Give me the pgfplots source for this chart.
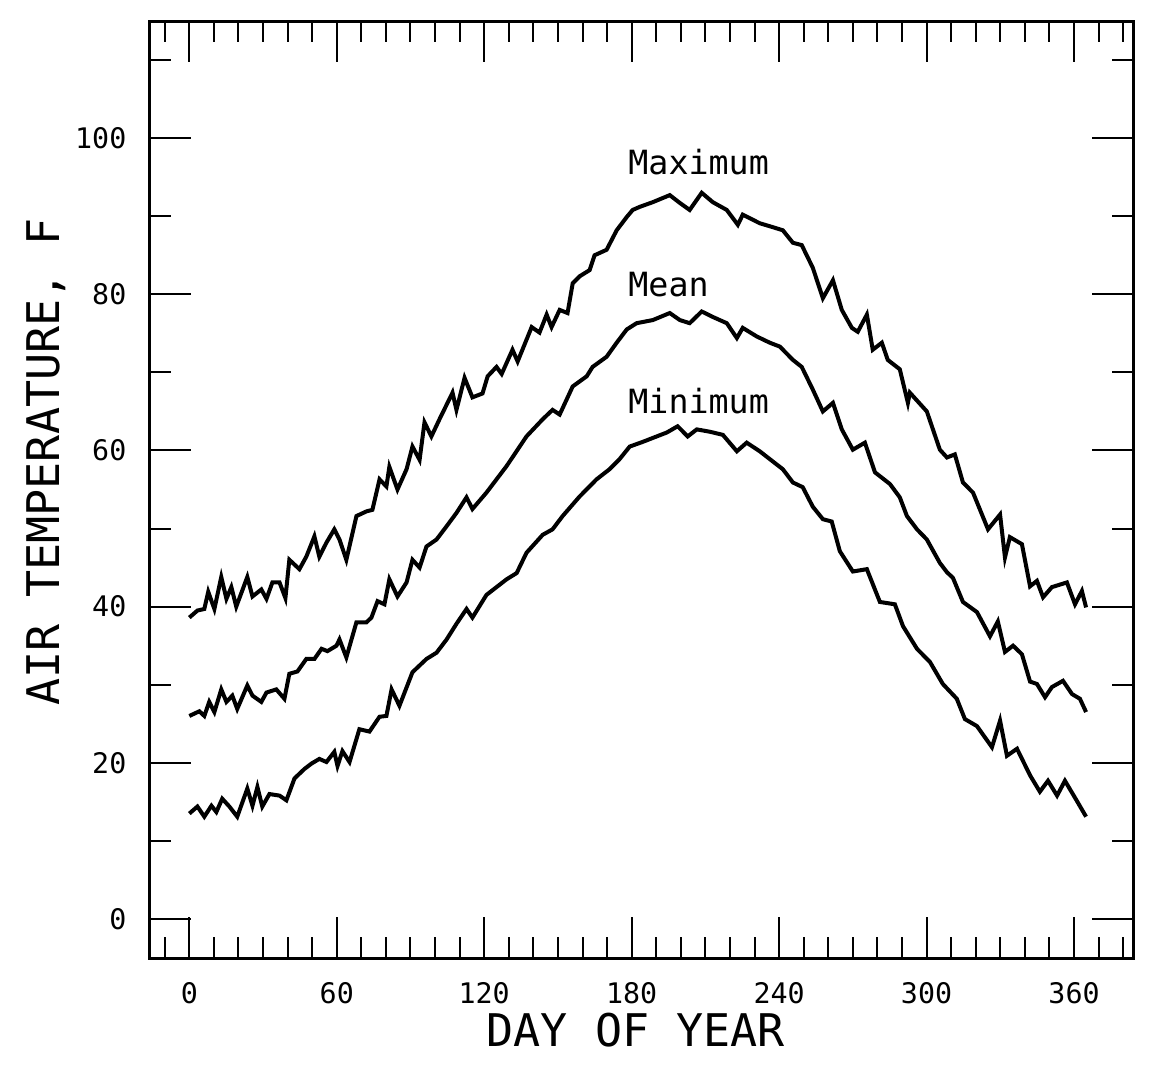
\documentclass[border=0pt]{standalone}
\usepackage{fontspec}
\setmainfont{DejaVu Sans Mono}
\usepackage{pgfplots}
\pgfplotsset{compat=1.18}
\begin{document}
\begin{tikzpicture}
\begin{axis}[
  scale only axis, width=294.9pt, height=281.1pt,
  xmin=-16, xmax=384, ymin=-5, ymax=115,
  axis line style={line width=0.9pt},
  xtick={0,60,...,360},
  minor xtick={-10,10,20,30,40,50,70,80,90,100,110,130,140,150,160,170,190,200,210,220,230,250,260,270,280,290,310,320,330,340,350,370,380},
  ytick={0,20,40,60,80,100},
  minor ytick={10,30,50,70,90,110},
  xtick pos=both, ytick pos=both,
  tick align=inside,
  major tick length=12.3pt, minor tick length=6.3pt,
  every tick/.style={black, line width=0.6pt},
  tick label style={font=\fontsize{8.5}{10}\selectfont, inner sep=0pt},
  /pgf/number format/assume math mode=true,
  yticklabel style={anchor=east, xshift=-6.9pt},
  xticklabel style={anchor=north, yshift=-7.2pt},
  clip=false,
]
\addplot[black, line width=1.2pt] coordinates {
(0,38.6)(3.3,39.5)(6.1,39.7)(7.7,41.9)(10.2,39.7)(13.0,43.8)(15.1,41.0)(17.1,42.5)(19.1,40.0)
(23.6,43.8)(25.7,41.3)(29.3,42.2)(31.4,41.0)(33.8,43.1)(36.7,43.1)(39.1,41.1)(40.7,46.0)
(44.8,44.8)(47.6,46.4)(50.9,49.0)(52.9,46.4)(55.8,48.2)(59.0,49.9)(61.1,48.6)(63.9,46.0)
(68.0,51.6)(72.1,52.2)(74.5,52.4)(77.4,56.3)(80.2,55.4)(81.4,57.9)(84.7,55.0)(88.4,57.6)
(90.8,60.5)(93.7,58.8)(95.7,63.6)(98.5,61.8)(101.8,64.0)(107.1,67.4)(108.7,65.2)(112.0,69.3)
(115.2,66.8)(119.3,67.3)(121.4,69.5)(125.0,70.7)(127.1,69.8)(131.5,72.9)(133.6,71.4)(139.3,75.8)
(142.5,75.1)(145.4,77.4)(147.4,75.8)(150.7,78.0)(153.9,77.6)(156.0,81.4)(158.8,82.3)(162.9,83.1)
(164.9,85.0)(169.8,85.7)(173.9,88.2)(178.0,89.9)(180.4,90.8)(183.3,91.2)(188.6,91.8)(195.5,92.7)
(199.6,91.7)(203.6,90.8)(208.5,93.0)(213.0,91.8)(218.7,90.8)(223.2,88.9)(225.2,90.2)(232.1,89.1)
(237.4,88.6)(241.5,88.2)(245.6,86.6)(249.2,86.3)(253.7,83.4)(257.8,79.5)(261.9,81.8)(265.5,78.0)
(269.6,75.7)(272.0,75.2)(275.7,77.4)(278.1,72.9)(281.8,73.8)(284.2,71.6)(289.1,70.4)(292.4,66.1)
(293.2,67.4)(300.1,65.0)(305.4,60.1)(308.3,59.1)(311.5,59.5)(314.8,55.9)(318.9,54.6)(325.0,49.9)
(329.9,51.8)(331.9,46.3)(333.9,48.9)(338.8,48.0)(342.1,42.6)(344.9,43.3)(347.4,41.2)(351.0,42.5)
(357.1,43.1)(360.4,40.3)(363.2,42.0)(364.9,39.9)
};
\addplot[black, line width=1.2pt] coordinates {
(0,26.0)(4.1,26.6)(6.1,26.0)(8.1,27.8)(10.2,26.5)(13.0,29.4)(15.1,27.8)(17.5,28.6)(19.5,26.9)
(23.6,29.9)(25.7,28.6)(29.3,27.8)(31.4,29.0)(35.4,29.4)(38.7,28.2)(40.7,31.4)(44.0,31.7)
(47.6,33.3)(50.9,33.3)(53.8,34.6)(56.2,34.3)(59.9,35.0)(61.1,35.8)(63.9,33.5)(68.0,38.0)
(72.1,38.0)(74.1,38.6)(76.6,40.7)(79.4,40.3)(81.4,43.5)(84.7,41.3)(88.4,43.1)(90.8,46.0)
(93.7,45.0)(96.5,47.7)(100.6,48.6)(104.7,50.3)(108.7,52.0)(112.8,54.0)(115.2,52.5)(120.9,54.6)
(125.0,56.3)(129.1,58.0)(137.2,61.8)(143.8,64.0)(147.8,65.2)(150.7,64.6)(156.0,68.2)(161.7,69.5)
(164.1,70.7)(169.8,72.0)(173.9,73.8)(178.0,75.5)(182.0,76.3)(188.6,76.7)(195.5,77.6)(199.6,76.7)
(203.6,76.3)(208.5,77.8)(213.0,77.1)(218.7,76.3)(222.8,74.4)(225.2,75.7)(230.9,74.6)(236.2,73.8)
(240.3,73.3)(245.6,71.6)(249.2,70.7)(253.7,67.8)(257.8,65.0)(261.9,66.1)(265.5,62.7)(270.0,60.1)
(274.9,61.0)(279.0,57.2)(285.1,55.7)(289.1,54.0)(292.0,51.6)(296.1,49.9)(300.1,48.6)(305.4,45.6)
(308.3,44.4)(310.7,43.7)(314.8,40.6)(320.5,39.3)(325.8,36.2)(329.0,38.1)(331.9,34.2)(335.2,35.0)
(338.8,33.9)(342.1,30.4)(344.9,30.1)(348.2,28.4)(351.0,29.7)(355.5,30.5)(359.2,28.8)(362.4,28.2)
(364.9,26.5)
};
\addplot[black, line width=1.2pt] coordinates {
(0,13.5)(3.3,14.4)(6.1,13.1)(9.0,14.5)(11.0,13.7)(13.4,15.4)(16.3,14.4)(19.5,13.1)(23.6,16.7)
(25.7,14.5)(27.7,16.9)(29.7,14.4)(32.6,16.0)(36.7,15.8)(39.5,15.2)(42.8,18.0)(46.8,19.2)
(49.7,19.9)(52.9,20.5)(55.8,20.1)(59.0,21.4)(60.3,19.6)(62.3,21.5)(65.2,20.1)(69.2,24.3)
(73.3,24.0)(77.4,25.9)(80.2,26.0)(82.3,29.4)(85.5,27.3)(90.8,31.6)(96.5,33.3)(100.6,34.1)
(104.7,35.8)(108.7,37.8)(112.8,39.7)(115.2,38.6)(120.9,41.5)(125.0,42.5)(129.1,43.5)(133.2,44.3)
(137.2,46.9)(143.8,49.2)(147.8,49.9)(151.9,51.6)(158.8,54.1)(165.7,56.3)(171.0,57.6)(175.1,58.9)
(179.2,60.5)(184.5,61.1)(190.2,61.8)(194.3,62.3)(198.7,63.1)(202.8,61.8)(206.5,62.7)(211.8,62.4)
(217.1,62.0)(222.8,59.9)(226.8,61.0)(232.1,59.9)(237.4,58.6)(241.5,57.6)(245.6,55.9)(249.6,55.3)
(253.7,52.8)(257.8,51.2)(261.4,50.9)(264.7,47.1)(270.0,44.5)(275.7,44.8)(281.0,40.6)(287.1,40.3)
(290.4,37.5)(296.1,34.6)(301.4,32.9)(306.6,30.1)(312.3,28.2)(315.6,25.6)(320.5,24.7)(326.6,22.0)
(329.9,25.4)(332.7,20.9)(336.8,21.8)(342.1,18.4)(346.1,16.3)(349.4,17.7)(353.1,15.8)(356.3,17.7)
(361.2,15.1)(364.9,13.1)
};
\node[anchor=west, inner sep=0pt, font=\fontsize{10}{12}\selectfont] at (axis cs:178.4,96.9) {Maximum};
\node[anchor=west, inner sep=0pt, font=\fontsize{10}{12}\selectfont] at (axis cs:178.4,81.2) {Mean};
\node[anchor=west, inner sep=0pt, font=\fontsize{10}{12}\selectfont] at (axis cs:178.4,66.3) {Minimum};
\end{axis}
\path (current axis.south west) ++(-31.2pt,148.8pt) node[rotate=90, font=\fontsize{13.5}{16}\selectfont] {AIR TEMPERATURE, F};
\path (current axis.south west) ++(145.7pt,-21.6pt) node[font=\fontsize{13.5}{16}\selectfont] {DAY OF YEAR};
\path (current axis.south west) ++(-45pt,-34.8pt);
\path (current axis.north east) ++(6.9pt,6.3pt);
\end{tikzpicture}
\end{document}
